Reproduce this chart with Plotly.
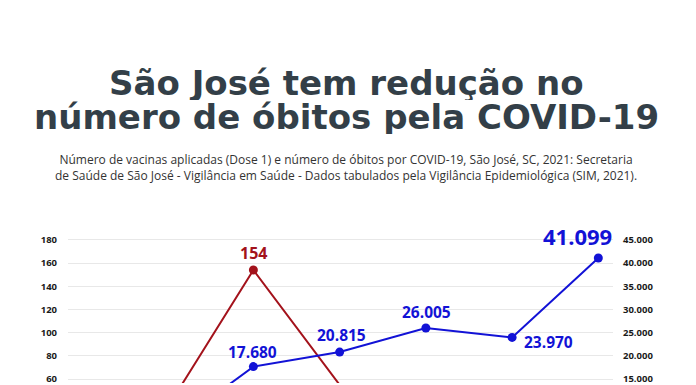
import plotly.graph_objects as go

# ---- data ----
months = ["Jan", "Fev", "Mar", "Abr", "Mai", "Jun", "Jul"]
obitos = [30, 35, 154, 55, 34, 22, 12]                    # deaths (left axis)
vacinas = [1200, 4000, 17680, 20815, 26005, 23970, 41099]  # first doses (right axis)
left_ticks = [0, 20, 40, 60, 80, 100, 120, 140, 160, 180]
right_ticks = [0, 5000, 10000, 15000, 20000, 25000, 30000, 35000, 40000, 45000]

# which points carry a visible value label
red_labels = [2]
blue_labels = [2, 3, 4, 5, 6]

RED = "#a3121b"
BLUE = "#1212d6"
DARK = "#333f48"

W, H = 696, 385
TOP = 228  # plot-area top in px
PH = H - TOP


def py(Y):
    return (H - Y) / PH


def fmt(v):
    return f"{v:,}".replace(",", ".")


ymin, ymax = 180 - 145 / 1.175, 180 + 12 / 1.175
ratio = 250
XC = (346 - 68) / 545

fig = go.Figure()
fig.add_trace(go.Scatter(
    x=months, y=obitos, mode="lines+markers", yaxis="y",
    line=dict(color=RED, width=2), marker=dict(color=RED, size=9),
    cliponaxis=False, showlegend=False, hoverinfo="skip"))
fig.add_trace(go.Scatter(
    x=months, y=vacinas, mode="lines+markers", yaxis="y2",
    line=dict(color=BLUE, width=2), marker=dict(color=BLUE, size=9),
    cliponaxis=False, showlegend=False, hoverinfo="skip"))

TF = dict(family="DejaVu Sans", size=34, color=DARK, weight="bold")
ann = []
# title
ann.append(dict(text="São José tem redução no", xref="paper", yref="paper",
                x=XC, y=py(81), xanchor="center", yanchor="middle", height=34,
                showarrow=False, font=TF))
ann.append(dict(text="número de óbitos pela COVID-19", xref="paper", yref="paper",
                x=XC, y=py(116), xanchor="center", yanchor="middle", height=34,
                showarrow=False, font=TF))
ann.append(dict(text="Número de vacinas aplicadas (Dose 1) e número de óbitos por COVID-19, São José, SC, 2021: Secretaria<br>"
                     "de Saúde de São José - Vigilância em Saúde - Dados tabulados pela Vigilância Epidemiológica (SIM, 2021).",
                xref="paper", yref="paper", x=XC, y=py(167),
                xanchor="center", yanchor="middle", showarrow=False,
                font=dict(family="Open Sans", size=12, color="#333333")))

# value labels
red_off = {2: (0, 17)}
for i in red_labels:
    dx, dy = red_off[i]
    ann.append(dict(x=months[i], y=obitos[i], xref="x", yref="y", text=fmt(obitos[i]),
                    showarrow=False, xshift=dx, yshift=dy,
                    font=dict(family="Open Sans", size=16, color=RED, weight="bold")))
blue_off = {2: (-1, 15, 15.5), 3: (2, 17, 15.5), 4: (1, 16, 15.5), 5: (36, -5, 15.5), 6: (-21, 22, 22)}
for i in blue_labels:
    dx, dy, fs = blue_off[i]
    ann.append(dict(x=months[i], y=vacinas[i], xref="x", yref="y2", text=fmt(vacinas[i]),
                    showarrow=False, xshift=dx, yshift=dy,
                    font=dict(family="Open Sans", size=fs, color=BLUE, weight="bold")))

fig.update_layout(
    width=W, height=H,
    margin=dict(l=68, r=W - 613, t=TOP, b=0, pad=0),
    paper_bgcolor="white", plot_bgcolor="white",
    annotations=ann,
    xaxis=dict(type="category", range=[-0.15, 6.17], showticklabels=False,
               showgrid=False, zeroline=False, showline=False, fixedrange=True),
    yaxis=dict(range=[ymin, ymax], tickvals=left_ticks, ticktext=[str(v) for v in left_ticks],
               showgrid=True, gridcolor="#e8e8e8", gridwidth=1, zeroline=False, showline=False,
               ticks="", ticklabelstandoff=10, ticklabeloverflow="allow",
               tickfont=dict(family="Open Sans", size=9.5, color="#1a1a1a", weight="bold")),
    yaxis2=dict(range=[ymin * ratio, ymax * ratio], overlaying="y", side="right",
                tickvals=right_ticks, ticktext=[fmt(v) for v in right_ticks],
                showgrid=False, zeroline=False, showline=False, ticks="", ticklabelstandoff=9,
                ticklabeloverflow="allow",
                tickfont=dict(family="Open Sans", size=9.5, color="#1a1a1a", weight="bold")),
)

fig.write_html("out.html", config={"displayModeBar": False},
               post_script="document.body.style.margin='0';document.body.style.overflow='hidden';")
